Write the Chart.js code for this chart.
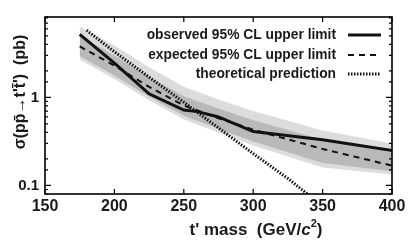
<!DOCTYPE html>
<html>
<head>
<meta charset="utf-8">
<script src="https://cdn.jsdelivr.net/npm/chart.js@4.4.1/dist/chart.umd.min.js"></script>
<style>
html, body { margin: 0; padding: 0; background: #fff; }
#wrap { width: 415px; height: 245px; }
</style>
</head>
<body>
<div id="wrap"><canvas id="limitChart" width="415" height="245"></canvas></div>
<script>
// t' masses (GeV/c^2) and cross section limits (pb)
var massList = [175, 200, 225, 250, 275, 300, 350, 400];
var expectedList = [3.8, 2.3, 1.32, 0.81, 0.58, 0.43, 0.26, 0.168];
var band1UpList = [5.0, 3.0, 1.72, 1.03, 0.75, 0.55, 0.33, 0.235];
var band1DownList = [2.95, 1.78, 1.02, 0.62, 0.44, 0.315, 0.18, 0.145];
var band2UpList = [6.4, 3.9, 2.2, 1.32, 0.95, 0.7, 0.42, 0.30];
var band2DownList = [2.7, 1.62, 0.93, 0.56, 0.40, 0.285, 0.16, 0.133];

var obsMassList = [175, 200, 225, 250, 260, 275, 300, 350, 400];
var observedList = [5.2, 2.45, 1.1, 0.72, 0.69, 0.6, 0.41, 0.33, 0.25];

var theoryMassList = [180, 200, 225, 250, 275, 300, 325, 340];
var theoryList = [5.8, 3.3, 1.7, 0.88, 0.45, 0.23, 0.12, 0.078];

var xTickList = [150, 200, 250, 300, 350, 400];

var FONT = "'Liberation Sans', Arial, Helvetica, sans-serif";


function toPoints(xs, ys) {
	var pts = new Array();
	for (var i in xs) {
		pts.push({ x: xs[i], y: ys[i] });
	}
	return pts;
}


function isDecade(v) {
	var l = Math.log10(v);
	return Math.abs(l - Math.round(l)) < 1e-6;
}


// frame with inward tick marks, drawn over the data
var framePlugin = {
	id: 'frame',
	afterDatasetsDraw: function (chart) {
		var ctx = chart.ctx;
		var a = chart.chartArea;
		var xs = chart.scales.x;
		var ys = chart.scales.y;
		ctx.save();
		ctx.strokeStyle = '#000';
		ctx.lineWidth = 1.2;
		ctx.beginPath();
		for (var i in xTickList) {
			var px = xs.getPixelForValue(xTickList[i]);
			ctx.moveTo(px, a.bottom);
			ctx.lineTo(px, a.bottom - 5);
			ctx.moveTo(px, a.top);
			ctx.lineTo(px, a.top + 5);
		}
		for (var j in ys.ticks) {
			var v = ys.ticks[j].value;
			if (v < ys.min || v > ys.max) continue;
			var py = ys.getPixelForValue(v);
			var len = isDecade(v) ? 6 : 3;
			ctx.moveTo(a.left, py);
			ctx.lineTo(a.left + len, py);
			ctx.moveTo(a.right, py);
			ctx.lineTo(a.right - len, py);
		}
		ctx.stroke();
		ctx.lineWidth = 1.6;
		ctx.strokeRect(a.left, a.top, a.right - a.left, a.bottom - a.top);
		ctx.restore();
	}
};


// legend on the right: text first, line sample after
var legendPlugin = {
	id: 'rightLegend',
	afterDraw: function (chart) {
		var ctx = chart.ctx;
		var rows = [0, 1, 2];
		var rowY = [35, 55, 74];
		ctx.save();
		ctx.font = 'bold 13.8px ' + FONT;
		ctx.fillStyle = '#1a1a1a';
		ctx.textAlign = 'right';
		ctx.textBaseline = 'middle';
		for (var i in rows) {
			var ds = chart.data.datasets[rows[i]];
			ctx.fillText(ds.label, 336, rowY[i]);
			ctx.strokeStyle = '#111';
			ctx.lineWidth = ds.borderWidth;
			ctx.setLineDash(ds.borderDash);
			ctx.beginPath();
			ctx.moveTo(348, rowY[i]);
			ctx.lineTo(381, rowY[i]);
			ctx.stroke();
		}
		ctx.restore();
	}
};


// axis titles, with italic c in the x title
var titlePlugin = {
	id: 'axisTitles',
	afterDraw: function (chart) {
		var ctx = chart.ctx;
		ctx.save();
		ctx.fillStyle = '#1a1a1a';
		ctx.textBaseline = 'middle';

		var parts = [
			{ t: "t' mass  (GeV/", f: 'bold 17px ' + FONT },
			{ t: 'c', f: 'italic bold 17px ' + FONT },
			{ t: '2', f: 'bold 11px ' + FONT, up: 6 },
			{ t: ')', f: 'bold 17px ' + FONT }
		];
		var total = 0;
		for (var i in parts) {
			ctx.font = parts[i].f;
			parts[i].w = ctx.measureText(parts[i].t).width;
			total += parts[i].w;
		}
		var x = 256 - total / 2;
		ctx.textAlign = 'left';
		for (var i in parts) {
			ctx.font = parts[i].f;
			ctx.fillText(parts[i].t, x, 230 - (parts[i].up || 0));
			x += parts[i].w;
		}

		ctx.translate(21, 92);
		ctx.rotate(-Math.PI / 2);
		ctx.textAlign = 'center';
		ctx.font = 'bold 16px ' + FONT;
		ctx.fillText("\u03c3(pp\u0304\u2192t't\u0304')  (pb)", 0, 0);
		ctx.restore();
	}
};


var lineBase = {
	fill: false,
	tension: 0,
	pointRadius: 0,
	borderColor: '#111',
	backgroundColor: '#111'
};

var data = {
	datasets: [
		Object.assign({}, lineBase, {
			label: 'observed 95% CL upper limit',
			borderWidth: 3,
			borderDash: [],
			data: toPoints(obsMassList, observedList)
		}),
		Object.assign({}, lineBase, {
			label: 'expected 95% CL upper limit',
			borderWidth: 2,
			borderDash: [6, 5],
			data: toPoints(massList, expectedList)
		}),
		Object.assign({}, lineBase, {
			label: 'theoretical prediction',
			borderWidth: 3,
			borderDash: [1.5, 1.5],
			data: toPoints(theoryMassList, theoryList)
		}),
		{
			label: '1 sigma up',
			data: toPoints(massList, band1UpList),
			borderWidth: 0,
			pointRadius: 0,
			tension: 0,
			backgroundColor: '#b9b9b9',
			fill: '+1'
		},
		{
			label: '1 sigma down',
			data: toPoints(massList, band1DownList),
			borderWidth: 0,
			pointRadius: 0,
			tension: 0,
			fill: false
		},
		{
			label: '2 sigma up',
			data: toPoints(massList, band2UpList),
			borderWidth: 0,
			pointRadius: 0,
			tension: 0,
			backgroundColor: '#dcdcdc',
			fill: '+1'
		},
		{
			label: '2 sigma down',
			data: toPoints(massList, band2DownList),
			borderWidth: 0,
			pointRadius: 0,
			tension: 0,
			fill: false
		}
	]
};

var ctx = document.getElementById('limitChart').getContext('2d');
new Chart(ctx, {
	type: 'line',
	data: data,
	plugins: [framePlugin, legendPlugin, titlePlugin],
	options: {
		responsive: false,
		animation: false,
		layout: { padding: { top: 17, right: 23, left: 0, bottom: 0 } },
		plugins: {
			legend: { display: false },
			tooltip: { enabled: false }
		},
		scales: {
			x: {
				type: 'linear',
				min: 150,
				max: 400,
				afterFit: function (scale) { scale.height = 51; },
				afterBuildTicks: function (scale) {
					scale.ticks = xTickList.map(function (v) { return { value: v }; });
				},
				grid: { display: false, drawTicks: false },
				border: { display: false },
				ticks: {
					padding: 3,
					color: '#1a1a1a',
					font: { family: FONT, size: 16, weight: 'bold' },
					maxRotation: 0
				}
			},
			y: {
				type: 'logarithmic',
				min: 0.08,
				max: 8.2,
				afterFit: function (scale) { scale.width = 45; },
				grid: { display: false, drawTicks: false },
				border: { display: false },
				ticks: {
					autoSkip: false,
					padding: 6,
					color: '#1a1a1a',
					font: { family: FONT, size: 15, weight: 'bold' },
					callback: function (v) {
						if (isDecade(v) && v <= 1) return String(Math.round(v * 10) / 10);
						return '';
					}
				}
			}
		}
	}
});
</script>
</body>
</html>
